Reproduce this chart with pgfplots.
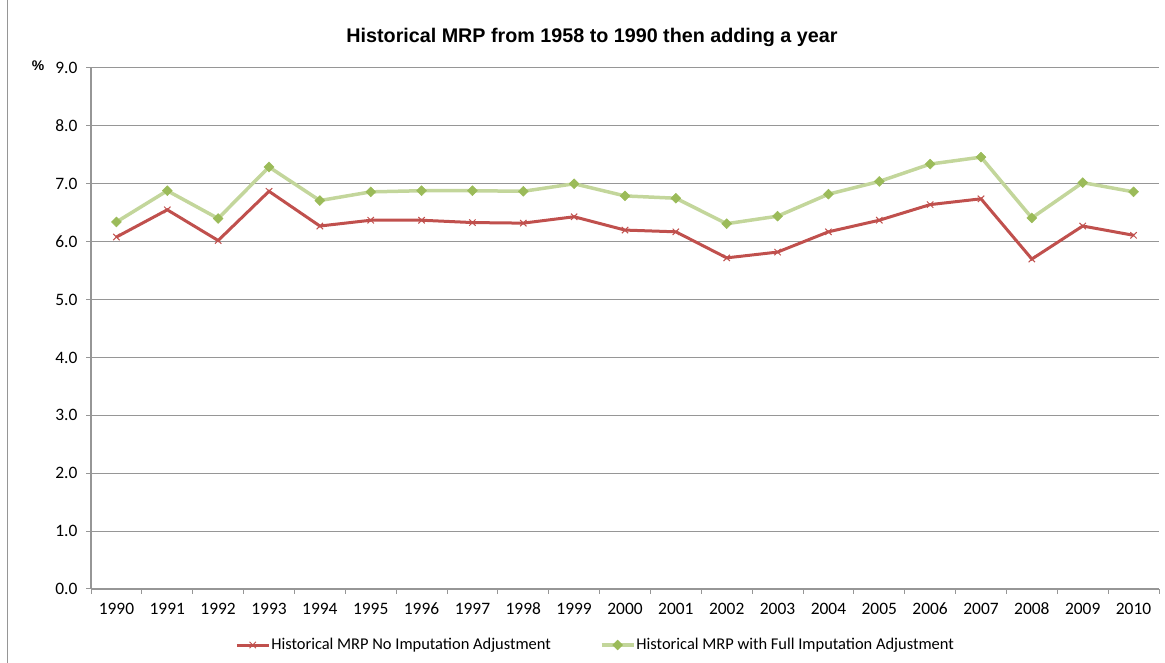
\documentclass[border=0pt]{standalone}
\usepackage{pgfplots}
\pgfplotsset{compat=1.18}
\usepackage{fontspec}
\setmainfont{Carlito}
\newfontfamily\titlefont{Liberation Sans}
\definecolor{mrpred}{RGB}{192,80,77}
\definecolor{mrpgreen}{RGB}{155,187,89}
\definecolor{mrplight}{RGB}{195,214,155}
\definecolor{gridgray}{RGB}{150,150,150}
\begin{document}
\begin{tikzpicture}[x=1bp,y=1bp]
\useasboundingbox (0,0) rectangle (1165,663);
\draw[gridgray, line width=1bp] (7,0) -- (7,663);
\node[font=\titlefont\bfseries\fontsize{19.8}{22}\selectfont] at (592,626) {Historical MRP from 1958 to 1990 then adding a year};
\node[font=\titlefont\bfseries\fontsize{14}{16}\selectfont] at (38,597) {\%};
\begin{axis}[
  at={(91bp,74bp)}, anchor=south west,
  width=1068bp, height=521bp, scale only axis,
  xmin=-0.5, xmax=20.5, ymin=0, ymax=9,
  axis x line*=bottom, axis y line*=left,
  axis line style={gridgray, line width=1.2bp, -},
  xtick={0,...,20},
  xticklabels={1990,1991,1992,1993,1994,1995,1996,1997,1998,1999,2000,2001,2002,2003,2004,2005,2006,2007,2008,2009,2010},
  major x tick style={draw=none},
  minor xtick={-0.5,0.5,...,20.5},
  minor tick length=5bp,
  minor x tick style={gridgray, line width=1bp},
  ytick={0,1,...,9},
  major tick length=5bp,
  tick align=outside,
  y tick style={gridgray, line width=1bp},
  ymajorgrids, grid style={gridgray, line width=1bp},
  tick label style={font=\fontsize{17.5}{20}\selectfont},
  /pgf/number format/assume math mode=true,
  yticklabel={\pgfmathprintnumber[fixed,fixed zerofill,precision=1]{\tick}},
  yticklabel style={xshift=-5bp},
  xticklabel style={yshift=-5bp, text height=12bp, text depth=0bp},
  legend columns=2,
  legend style={draw=none, fill=none, at={(rel axis cs:0.472,-0.1075)}, anchor=center,
    font=\fontsize{16.5}{19}\selectfont,
    nodes={inner xsep=1bp},
    /tikz/every even column/.append style={column sep=48bp}},
  legend cell align=left,
  legend image code/.code={\draw[mark repeat=2,mark phase=2] plot coordinates {(0bp,0bp) (16bp,0bp) (32bp,0bp)};},
]
\addplot[mrpred, line width=3bp, mark=x, mark size=4.5bp, mark options={line width=1bp, draw=mrpred}] coordinates {
(0,6.08) (1,6.55) (2,6.02) (3,6.87) (4,6.27) (5,6.37) (6,6.37) (7,6.33) (8,6.32) (9,6.43)
(10,6.20) (11,6.17) (12,5.72) (13,5.82) (14,6.17) (15,6.37) (16,6.64) (17,6.74) (18,5.70) (19,6.27) (20,6.11)};
\addlegendentry{Historical MRP No Imputation Adjustment}
\addplot[mrplight, line width=3.5bp, mark=square*, mark size=3.5bp, mark options={rotate=45, draw=mrpgreen, fill=mrpgreen, line width=0.5bp}] coordinates {
(0,6.34) (1,6.88) (2,6.40) (3,7.29) (4,6.71) (5,6.86) (6,6.88) (7,6.88) (8,6.87) (9,7.00)
(10,6.79) (11,6.75) (12,6.31) (13,6.44) (14,6.82) (15,7.04) (16,7.34) (17,7.46) (18,6.41) (19,7.02) (20,6.86)};
\addlegendentry{Historical MRP with Full Imputation Adjustment}
\end{axis}
\end{tikzpicture}
\end{document}
